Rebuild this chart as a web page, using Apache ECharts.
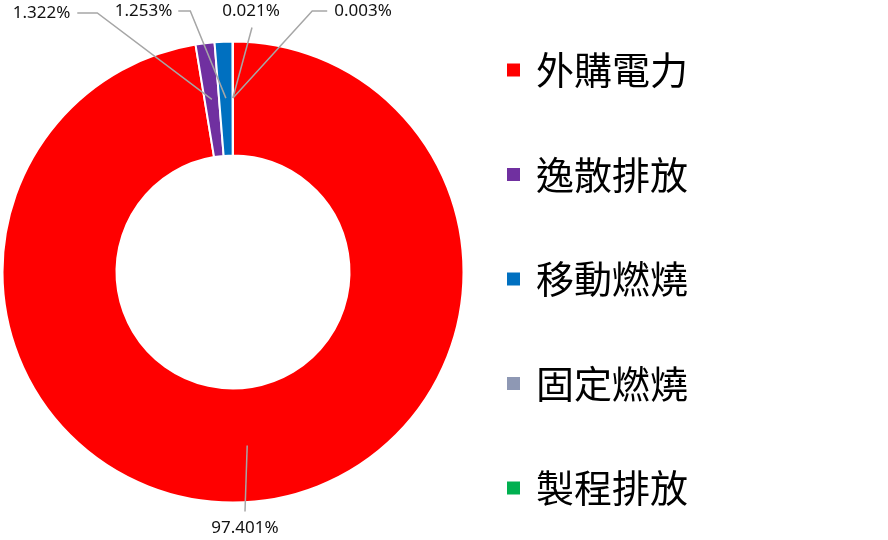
<!DOCTYPE html>
<html>
<head>
<meta charset="utf-8">
<script src="https://cdn.jsdelivr.net/npm/echarts@6/dist/echarts.min.js"></script>
<style>
  html, body { margin: 0; padding: 0; background: #fff; }
  #chart { width: 888px; height: 540px; }
</style>
</head>
<body>
<div id="chart"></div>
<script>
// ---- data ----
var categories = ['外購電力', '逸散排放', '移動燃燒', '固定燃燒', '製程排放'];
var values = [97.401, 1.322, 1.253, 0.021, 0.003];
var colors = ['#FF0000', '#7030A0', '#0070C0', '#8E98B4', '#00B050'];

// ---- label layout (text centre, side where the leader line attaches, elbow length) ----
var labelPlace = [
  { x: 245, y: 528, side: 'top', gap: 8, elbow: 0 },
  { x: 41.5, y: 13, side: 'right', gap: 7, elbow: 20 },
  { x: 143.5, y: 11, side: 'right', gap: 6, elbow: 12 },
  { x: 251, y: 11, side: 'bottom', gap: 8, elbow: 0 },
  { x: 363, y: 11, side: 'left', gap: 7, elbow: 15 }
];

var chart = echarts.init(document.getElementById('chart'));

var ringData = categories.map(function (c, i) {
  return { name: c, value: values[i], itemStyle: { color: colors[i] } };
});
var labelData = categories.map(function (c, i) {
  return { name: c, value: values[i] };
});

chart.setOption({
  animation: false,
  color: colors,
  legend: {
    orient: 'vertical',
    left: 500,
    top: 43,
    icon: 'rect',
    itemWidth: 15,
    itemHeight: 15,
    itemGap: 60.5,
    selectedMode: false,
    data: categories,
    textStyle: {
      fontFamily: '"Noto Sans CJK TC", sans-serif',
      fontSize: 38,
      lineHeight: 44,
      color: '#000',
      padding: [0, 0, 0, 10]
    }
  },
  series: [
    {
      type: 'pie',
      name: 'ring',
      center: [233, 272],
      radius: [116.5, 230.5],
      startAngle: 90,
      clockwise: true,
      avoidLabelOverlap: false,
      label: { show: false },
      labelLine: { show: false },
      itemStyle: { borderColor: '#fff', borderWidth: 2 },
      emphasis: { disabled: true },
      data: ringData
    },
    {
      type: 'pie',
      name: 'labels',
      center: [233, 272],
      radius: [0, 174],
      startAngle: 90,
      clockwise: true,
      silent: true,
      avoidLabelOverlap: false,
      z: 5,
      itemStyle: { color: 'rgba(0,0,0,0)', borderWidth: 0 },
      emphasis: { disabled: true },
      label: {
        show: true,
        position: 'outside',
        formatter: function (p) { return p.value.toFixed(3) + '%'; },
        fontFamily: '"Noto Sans", sans-serif',
        fontSize: 17,
        color: '#111'
      },
      labelLine: {
        show: true,
        length: 20,
        length2: 10,
        lineStyle: { color: '#A6A6A6', width: 1.5 }
      },
      labelLayout: function (params) {
        var lp = labelPlace[params.dataIndex];
        var w = params.labelRect.width;
        var h = params.labelRect.height;
        var start = params.labelLinePoints ? params.labelLinePoints[0] : [lp.x, lp.y];
        var end, elbow;
        if (lp.side === 'right') {
          end = [lp.x + w / 2 + lp.gap, lp.y];
          elbow = [end[0] + lp.elbow, lp.y];
        } else if (lp.side === 'left') {
          end = [lp.x - w / 2 - lp.gap, lp.y];
          elbow = [end[0] - lp.elbow, lp.y];
        } else if (lp.side === 'top') {
          end = [lp.x, lp.y - h / 2 - lp.gap];
          elbow = end;
        } else {
          end = [lp.x + 1, lp.y + h / 2 + lp.gap];
          elbow = end;
        }
        return {
          x: lp.x,
          y: lp.y,
          align: 'center',
          verticalAlign: 'middle',
          labelLinePoints: [start, elbow, end]
        };
      },
      data: labelData
    }
  ]
});
</script>
</body>
</html>
